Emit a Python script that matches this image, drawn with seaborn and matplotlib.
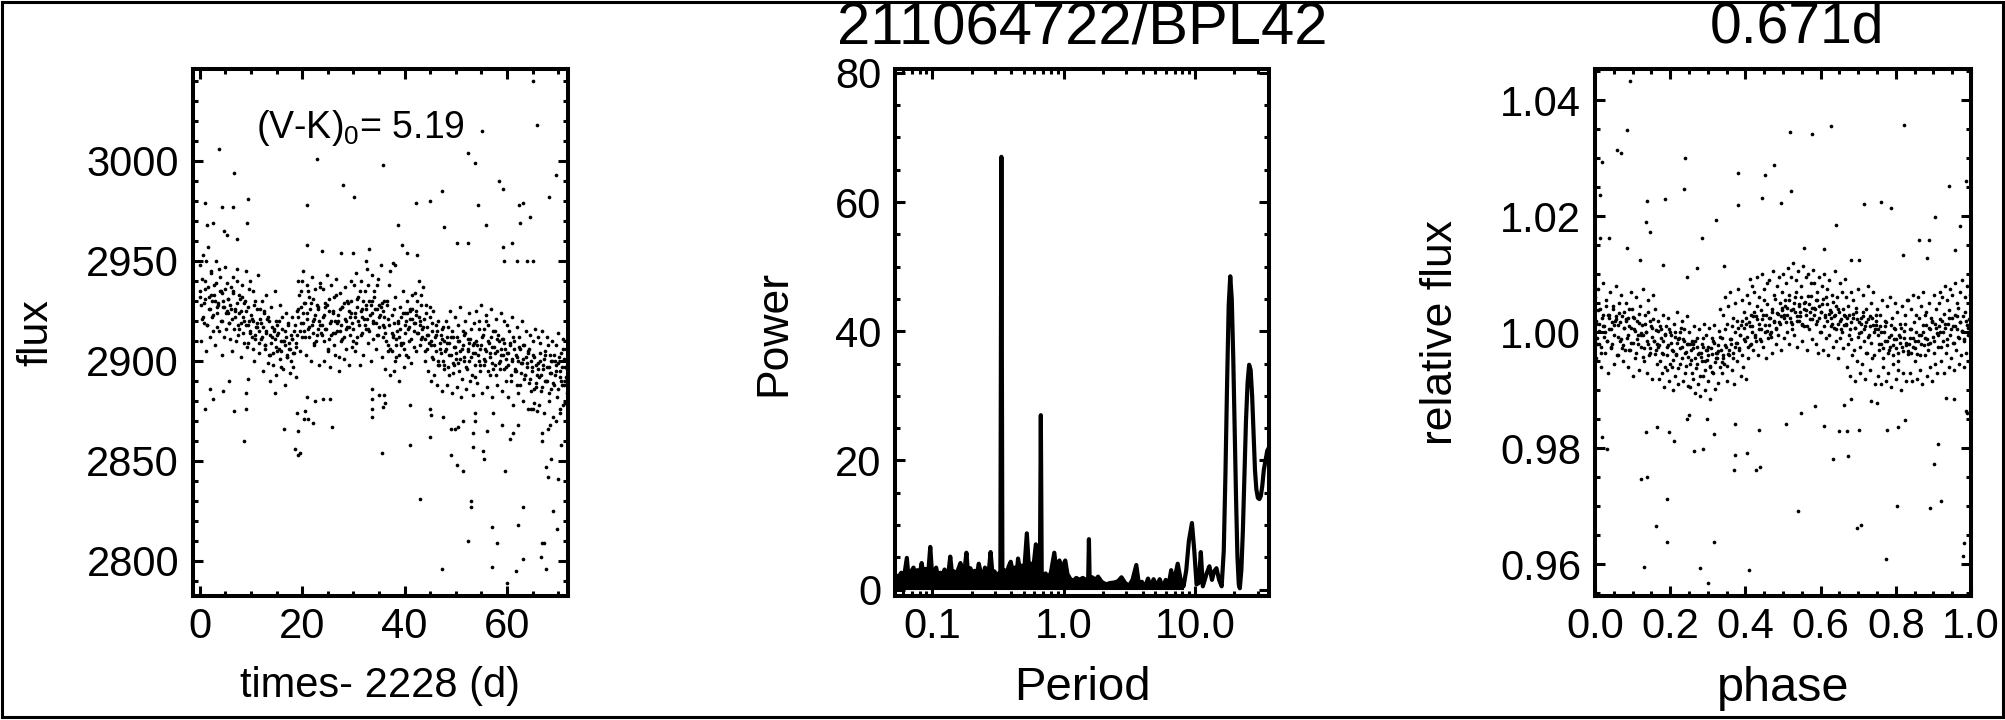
import matplotlib
matplotlib.use("Agg")
import matplotlib.pyplot as plt
from matplotlib.patches import Rectangle
from matplotlib.ticker import MultipleLocator, FixedLocator, FixedFormatter, LogLocator, NullFormatter, FormatStrFormatter
import numpy as np
import pandas as pd
import seaborn as sns

# --- light curve (flux read off the plot along the observing span) ---
# dense core, first pass
lc_flux = [
    2935, 2928, 2941, 2922, 2931, 2950, 2918, 2937, 2926, 2944, 2930, 2915, 2933, 2939, 2924, 2929, 2946, 2920, 2934, 2927, 2912, 2936, 2925, 2931, 2919,
    2928, 2921, 2935, 2916, 2926, 2940, 2913, 2924, 2931, 2919, 2922, 2909, 2930, 2925, 2918, 2936, 2914, 2923, 2920, 2928, 2911, 2917, 2926, 2915, 2921,
    2919, 2912, 2924, 2906, 2915, 2921, 2903, 2913, 2909, 2917, 2898, 2911, 2920, 2905, 2914, 2901, 2910, 2916, 2896, 2908, 2912, 2903, 2918, 2906, 2900,
    2911, 2904, 2915, 2907, 2913, 2926, 2933, 2919, 2940, 2924, 2915, 2929, 2921, 2935, 2912, 2926, 2918, 2931, 2909, 2923, 2928, 2916, 2920, 2937, 2914,
    2922, 2910, 2927, 2916, 2905, 2931, 2919, 2913, 2924, 2908, 2920, 2933, 2915, 2902, 2926, 2918, 2911, 2929, 2921, 2906, 2917, 2925, 2913, 2930, 2919,
    2916, 2924, 2909, 2927, 2920, 2935, 2913, 2922, 2930, 2918, 2926, 2921, 2938, 2915, 2928, 2924, 2911, 2932, 2919, 2926, 2941, 2917, 2923, 2929, 2912,
    2922, 2914, 2930, 2908, 2918, 2945, 2905, 2913, 2926, 2900, 2911, 2919, 2903, 2916, 2909, 2924, 2906, 2914, 2920, 2902, 2917, 2925, 2911, 2921, 2915,
    2919, 2925, 2914, 2922, 2918, 2928, 2916, 2921, 2911, 2924, 2917, 2913, 2927, 2908, 2919, 2901, 2912, 2905, 2915, 2898, 2909, 2904, 2916, 2900, 2910,
    2906, 2912, 2897, 2909, 2903, 2915, 2894, 2907, 2901, 2912, 2899, 2910, 2905, 2891, 2908, 2902, 2914, 2896, 2906, 2900, 2911, 2893, 2904, 2909, 2898,
    2910, 2903, 2916, 2898, 2908, 2913, 2901, 2906, 2920, 2895, 2909, 2904, 2912, 2899, 2907, 2915, 2893, 2905, 2910, 2900, 2903, 2911, 2896, 2906, 2901,
    2904, 2898, 2909, 2893, 2901, 2912, 2896, 2903, 2888, 2900, 2906, 2894, 2899, 2908, 2891, 2902, 2897, 2905, 2889, 2900, 2895, 2903, 2886, 2898, 2893,
    2899, 2892, 2904, 2887, 2896, 2901, 2890, 2897, 2908, 2884, 2894, 2900, 2889, 2903, 2893, 2898, 2886, 2902, 2895, 2890, 2906, 2888, 2897, 2892, 2900,
]
# dense core, second pass (wider part of the band)
lc_flux_b = [
    2948, 2910, 2953, 2919, 2940, 2905, 2957, 2932, 2912, 2945, 2922, 2938, 2908, 2950, 2927, 2915, 2942, 2935, 2903, 2930, 2947, 2916, 2939, 2924, 2911,
    2937, 2905, 2942, 2925, 2910, 2946, 2918, 2933, 2902, 2938, 2914, 2929, 2945, 2907, 2927, 2920, 2940, 2912, 2935, 2900, 2930, 2917, 2943, 2909, 2926,
    2930, 2895, 2925, 2908, 2933, 2899, 2920, 2890, 2927, 2904, 2915, 2935, 2893, 2918, 2906, 2928, 2897, 2922, 2910, 2888, 2924, 2902, 2919, 2894, 2913,
    2922, 2897, 2918, 2892, 2925, 2940, 2905, 2935, 2912, 2945, 2929, 2903, 2938, 2916, 2932, 2900, 2942, 2920, 2908, 2936, 2913, 2927, 2898, 2939, 2918,
    2936, 2900, 2929, 2943, 2906, 2925, 2897, 2938, 2914, 2932, 2903, 2941, 2920, 2895, 2934, 2910, 2927, 2901, 2937, 2916, 2930, 2898, 2922, 2940, 2907,
    2938, 2905, 2944, 2912, 2932, 2898, 2940, 2926, 2903, 2935, 2916, 2946, 2909, 2930, 2900, 2943, 2920, 2935, 2906, 2938, 2913, 2928, 2948, 2902, 2925,
    2930, 2896, 2928, 2905, 2938, 2893, 2923, 2912, 2895, 2932, 2902, 2920, 2890, 2927, 2908, 2935, 2897, 2924, 2903, 2930, 2910, 2926, 2899, 2933, 2907,
    2934, 2905, 2930, 2940, 2908, 2933, 2912, 2937, 2900, 2928, 2906, 2895, 2922, 2890, 2915, 2925, 2893, 2918, 2888, 2920, 2898, 2913, 2885, 2917, 2896,
    2920, 2888, 2917, 2893, 2925, 2884, 2912, 2898, 2922, 2887, 2918, 2895, 2927, 2882, 2915, 2900, 2920, 2886, 2911, 2924, 2890, 2916, 2883, 2919, 2892,
    2925, 2889, 2920, 2895, 2928, 2884, 2916, 2900, 2923, 2887, 2918, 2893, 2926, 2882, 2915, 2898, 2921, 2888, 2913, 2896, 2924, 2885, 2911, 2920, 2890,
    2918, 2882, 2915, 2890, 2922, 2878, 2910, 2895, 2917, 2884, 2912, 2888, 2920, 2880, 2908, 2893, 2915, 2876, 2906, 2913, 2885, 2910, 2879, 2916, 2887,
    2912, 2878, 2909, 2885, 2915, 2874, 2905, 2890, 2912, 2880, 2903, 2886, 2910, 2872, 2900, 2908, 2882, 2914, 2876, 2904, 2888, 2911, 2879, 2906, 2884,
]
# dense core, third pass (centre of the band)
lc_flux_c = [
    2932, 2921, 2929, 2936, 2918, 2926, 2933, 2923, 2930, 2917, 2928, 2935, 2920, 2927, 2924, 2931, 2919, 2926, 2934, 2922, 2929, 2916, 2925, 2932, 2920,
    2918, 2909, 2915, 2921, 2906, 2913, 2919, 2904, 2911, 2917, 2908, 2914, 2922, 2903, 2912, 2916, 2907, 2913, 2920, 2905, 2910, 2915, 2902, 2909, 2906,
    2911, 2904, 2909, 2922, 2915, 2927, 2919, 2912, 2924, 2917, 2929, 2914, 2921, 2910, 2926, 2918, 2913, 2923, 2916, 2928, 2911, 2920, 2925, 2914, 2919,
    2923, 2915, 2927, 2912, 2920, 2929, 2917, 2924, 2910, 2922, 2931, 2918, 2925, 2914, 2921, 2928, 2916, 2923, 2930, 2919, 2926, 2913, 2922, 2927, 2918,
    2917, 2910, 2921, 2906, 2914, 2919, 2908, 2915, 2912, 2922, 2909, 2918, 2924, 2916, 2921, 2926, 2919, 2923, 2914, 2920, 2911, 2917, 2905, 2913, 2909,
    2910, 2902, 2908, 2913, 2900, 2906, 2911, 2898, 2905, 2909, 2903, 2912, 2899, 2907, 2904, 2910, 2901, 2906, 2913, 2897, 2905, 2909, 2902, 2908, 2904,
    2908, 2900, 2906, 2912, 2898, 2905, 2910, 2902, 2907, 2896, 2904, 2911, 2899, 2906, 2903, 2909, 2897, 2904, 2908, 2900, 2906, 2895, 2902, 2907, 2899,
    2901, 2893, 2899, 2904, 2891, 2897, 2902, 2889, 2896, 2900, 2893, 2898, 2903, 2890, 2897, 2894, 2900, 2888, 2895, 2899, 2892, 2897, 2901, 2890, 2896,
]
lc_start, lc_end = 0.0, 71.8

lc_out_time = [
    65.1, 65.8, 55.1, 3.8, 22.9, 35.8, 52.4, 53.7, 69.6, 6.7, 28.0, 30.1, 58.4, 59.2, 68.2, 21.0, 1.1, 4.4, 6.5, 9.4,
    42.3, 45.0, 47.3, 54.3, 62.3, 63.1, 64.5, 62.5, 1.4, 2.6, 4.7, 5.3, 9.2, 7.3, 38.8, 55.8, 47.7, 21.0, 23.9, 27.6,
    30.0, 33.1, 39.5, 40.5, 42.4, 50.3, 52.4, 59.2, 61.0, 63.9, 65.1, 59.5, 61.9, 32.5, 37.8, 38.2,
    2.0, 2.6, 1.1, 5.8, 4.6, 6.7, 8.7, 9.1, 9.1, 9.4, 14.7, 16.5, 19.0, 20.6, 19.2, 18.6, 19.2, 19.6, 20.4, 21.2,
    22.2, 21.0, 22.5, 24.1, 25.4, 25.9, 33.7, 33.7, 33.7, 33.7, 35.0, 36.0, 36.2, 35.8, 35.6, 41.1, 41.1, 43.0, 45.0, 45.2,
    45.0, 47.5, 49.1, 49.9, 50.4, 49.1, 50.2, 51.4, 51.4, 52.4, 53.0, 53.0, 53.4, 53.4, 53.7, 53.7, 55.3, 55.5, 56.1, 57.3,
    59.0, 57.1, 58.0, 57.1, 59.6, 60.6, 61.2, 62.1, 62.1, 61.8, 63.1, 63.1, 64.7, 65.1, 65.9, 66.6, 66.9, 67.2, 66.9, 66.9,
    67.7, 67.7, 68.0, 68.6, 69.0, 69.8, 70.0, 70.6, 69.6, 70.3, 71.0, 68.0, 68.4, 47.3, 60.0,
]
lc_out_flux = [
    3040, 3018, 3015, 3006, 3001, 2998, 3004, 2999, 2993, 2994, 2988, 2982, 2990, 2986, 2982, 2978, 2979, 2977, 2977, 2981,
    2979, 2980, 2985, 2978, 2978, 2979, 2972, 2969, 2968, 2969, 2965, 2963, 2969, 2961, 2968, 2968, 2967, 2958, 2955, 2954,
    2954, 2956, 2958, 2954, 2953, 2959, 2959, 2957, 2959, 2950, 2950, 2950, 2950, 2950, 2949, 2948,
    2886, 2881, 2876, 2890, 2885, 2875, 2860, 2884, 2876, 2891, 2884, 2866, 2874, 2875, 2865, 2856, 2853, 2854, 2871, 2871,
    2869, 2882, 2880, 2881, 2881, 2867, 2886, 2881, 2876, 2872, 2883, 2883, 2879, 2877, 2854, 2878, 2858, 2831, 2876, 2873,
    2862, 2872, 2866, 2866, 2867, 2853, 2848, 2845, 2870, 2810, 2830, 2827, 2864, 2857, 2874, 2870, 2855, 2851, 2865, 2874,
    2868, 2817, 2809, 2797, 2845, 2861, 2864, 2868, 2818, 2795, 2827, 2801, 2876, 2876, 2875, 2802, 2809, 2809, 2860, 2864,
    2796, 2847, 2842, 2851, 2825, 2816, 2841, 2858, 2870, 2874, 2878, 2866, 2868, 2796, 2789,
]

# --- periodogram ---
pg_period = [
    0.052, 0.055, 0.058, 0.061, 0.064, 0.066, 0.069, 0.072, 0.074, 0.077, 0.080, 0.083, 0.086, 0.089, 0.093, 0.0965,
    0.100, 0.104, 0.107, 0.111, 0.115, 0.119, 0.124, 0.129, 0.133, 0.137, 0.142, 0.147, 0.152, 0.158, 0.164, 0.170,
    0.176, 0.182, 0.188, 0.195, 0.202, 0.210, 0.218, 0.226, 0.234, 0.243, 0.252, 0.261, 0.270, 0.278, 0.288, 0.298,
    0.309, 0.320, 0.330, 0.336, 0.342, 0.355, 0.368, 0.382, 0.396, 0.410, 0.425, 0.440, 0.450, 0.465, 0.480, 0.500,
    0.525, 0.545, 0.565, 0.585, 0.615, 0.640, 0.660, 0.671, 0.682, 0.705, 0.73, 0.76, 0.80, 0.85, 0.88, 0.91,
    0.93, 0.96, 1.00, 1.03, 1.07, 1.12, 1.18, 1.25, 1.32, 1.40, 1.48, 1.54, 1.56, 1.58, 1.65, 1.75,
    1.83, 1.95, 2.1, 2.25, 2.45, 2.6, 2.76, 2.95, 3.15, 3.35, 3.58, 3.75, 3.95, 4.15, 4.4, 4.6,
    4.85, 5.1, 5.4, 5.7, 6.0, 6.3, 6.6, 6.9, 7.4, 7.8, 8.2, 8.6, 9.0, 9.5, 9.9, 10.3,
    10.7, 11.1, 11.5, 12.3, 12.9, 13.5, 14.0, 14.6, 15.3, 16.0, 16.6, 17.1, 17.6, 18.1, 18.6, 19.1,
    19.6, 20.1, 20.6, 21.1, 21.6, 22.0, 22.6, 23.2, 23.8, 24.5, 25.2, 25.9, 26.6, 27.3, 28.0, 28.7,
    29.4, 30.2, 31.0, 31.8, 32.6, 33.5, 34.5, 35.6, 36.7,
]
pg_power = [
    2.4, 1.8, 2.6, 2.0, 4.9, 1.7, 2.8, 3.4, 1.9, 3.0, 2.2, 4.1, 2.0, 3.2, 2.3, 6.6,
    1.9, 2.8, 3.4, 1.8, 2.6, 2.1, 3.1, 2.2, 2.7, 5.1, 2.1, 2.8, 2.0, 3.2, 4.1, 2.4,
    3.0, 5.7, 2.0, 3.3, 2.3, 2.9, 2.1, 4.0, 2.6, 1.9, 3.4, 2.4, 3.0, 5.8, 2.2, 2.8,
    2.0, 2.5, 1.8, 67.0, 1.6, 3.0, 2.3, 3.6, 4.3, 2.7, 3.4, 2.4, 4.8, 3.0, 3.7, 2.5,
    8.7, 3.2, 4.0, 2.9, 7.0, 2.6, 1.9, 27.0, 1.5, 2.1, 2.5, 1.8, 2.6, 5.7, 3.0, 3.4,
    4.5, 2.3, 3.9, 4.5, 2.4, 1.7, 1.3, 1.8, 1.5, 1.8, 1.5, 1.6, 7.8, 1.4, 1.9, 1.5,
    2.0, 1.2, 0.8, 1.0, 1.1, 1.3, 1.9, 1.0, 0.6, 1.5, 3.8, 0.8, 1.2, 0.3, 1.7, 0.4,
    1.6, 0.5, 1.6, 0.3, 1.5, 0.6, 3.0, 1.0, 4.0, 1.5, 0.5, 3.0, 7.5, 10.3, 6.0, 0.8,
    1.0, 5.8, 0.5, 2.5, 3.6, 1.5, 2.8, 3.3, 1.5, 0.5, 6.0, 18.0, 32.0, 44.0, 48.5, 45.0,
    36.0, 25.0, 14.0, 5.0, 0.8, 0.2, 3.0, 9.0, 17.0, 26.0, 32.0, 34.8, 34.0, 30.0, 24.0, 18.5,
    15.5, 14.2, 14.0, 14.5, 16.0, 18.5, 20.0, 21.5, 22.0,
]
pg_fill_max = 8.2

# --- phase-folded light curve at 0.671 d (relative flux - 1, in units of 1e-4) ---
ph_dev = [
    15, -20, 38, 2, -35, 25, 10, -8, 45, -15, 30, 5, -28, 18, 40, -5, 22, -40, 12, 33, -12, 28, -22, 8, 20,
    -10, 25, -30, 8, 40, -18, 5, -35, 20, -5, 32, -25, 12, -42, 15, 0, -15, 35, -28, 10, -8, 22, -38, 3, -20,
    -25, -50, 5, -35, -15, -60, 10, -40, -22, -55, -5, -30, -48, 0, -38, -18, -62, -28, 8, -45, -12, -35, -58, -20, -42,
    -55, -30, -70, -20, -45, -62, -10, -38, -75, -35, -50, -25, -65, -5, -48, -40, -58, -28, -68, -15, -52, -35, -45, -22, -60,
    -30, -10, -45, 5, -25, 15, -38, -12, -20, 10, -35, 0, -18, 20, -28, -5, 12, -40, 8, -15, 25, -8, 18, -22, 30,
    10, 35, -5, 28, 45, 15, -12, 38, 22, 55, 0, 30, 48, 12, 25, -8, 40, 20, 58, 5, 33, 18, 50, 28, 42,
    30, 55, 18, 42, 65, 25, 38, 5, 50, 35, 70, 20, 45, 28, 60, 12, 40, 52, 30, 10, 48, 35, 62, 22, 42,
    40, 15, 55, 25, 0, 35, 48, 10, 30, 60, 20, -5, 38, 25, 52, 8, 30, 45, 15, 35, -10, 22, 40, 12, 28,
    15, -20, 30, 5, -12, 25, -30, 8, 42, -8, 18, -25, 0, 35, -15, 10, -35, 22, -5, 28, -18, 12, -40, 5, 20,
    -5, -30, 10, -20, -45, 0, -15, 18, -35, -8, -25, 12, -40, -12, 5, -28, -50, -5, -18, 8, -32, -10, 15, -22, -38,
    -20, 5, -35, -10, 18, -28, 0, -15, 25, -40, -5, 12, -22, 30, -12, -30, 8, -18, 20, -8, -35, 15, -2, -25, 10,
    0, 20, -15, 32, 8, -22, 15, 38, -5, 25, 10, -18, 30, 5, 42, -10, 18, 2, 28, -12, 35, 12, -5, 22, 15,
]
ph_dev_b = [
    60, -45, 75, -20, 40, -60, 85, 10, -35, 55, -70, 30, 70, -25, 45, -55, 20, 80, -40, 50, -15, 65, -50, 35, -30,
    50, -60, 40, -30, 70, -75, 25, -45, 60, -20, -65, 45, -5, 75, -50, 30, -70, 55, -40, 20, -80, 65, -15, 40, -55,
    20, -80, 10, -70, 30, -95, -5, -65, 25, -85, 0, -60, -100, 15, -75, 35, -90, -10, -55, 20, -85, 5, -70, 28, -92,
    0, -95, -15, -80, 10, -105, -25, -90, 5, -110, -20, -75, 15, -100, -30, -85, 8, -115, -10, -70, 12, -98, -35, -88, 2,
    40, -70, 30, -55, 60, -85, 45, -40, 70, -65, 25, -90, 50, -50, 75, -30, -75, 55, -60, 35, -80, 65, -45, 50, -20,
    80, -30, 70, -15, 95, -40, 60, 5, 100, -25, 75, -45, 85, -10, 90, 0, -35, 105, 65, -20, 80, -5, 95, -30, 70,
    100, -10, 85, 0, 110, -20, 95, 15, 120, -5, 90, -25, 105, 20, 80, -15, 115, 10, 95, -30, 100, 5, 85, -12, 108,
    85, -20, 70, -35, 95, 0, 80, -30, 100, -10, 75, -40, 90, 10, 65, -25, 105, -15, 60, -45, 85, 5, 70, -28, 92,
    60, -60, 45, -75, 70, -40, 55, -85, 35, -50, 75, -70, 25, -55, 65, -80, 40, -35, 80, -65, 50, -45, 70, -90, 30,
    40, -75, 30, -90, 55, -60, 20, -85, 45, -70, 60, -95, 25, -55, 50, -80, 35, -65, 15, -100, 45, -70, 30, -85, 55,
    55, -70, 40, -85, 65, -50, 30, -80, 60, -65, 45, -90, 70, -40, 35, -75, 50, -60, 25, -85, 65, -55, 40, -70, 50,
    70, -50, 60, -70, 80, -35, 55, -60, 75, -45, 65, -65, 85, -30, 50, -55, 70, -40, 90, -60, 60, -35, 80, -50, 65,
]
ph_dev_c = [
    20, -10, 15, -25, 30, 0, -15, 25, 5, -20, 12, 28, -8, 18, -28, 8, 22, -5, 10, -18, 26, 2, -12, 16, -2,
    -5, -28, 0, -20, -35, 8, -15, -30, 2, -22, -10, -38, -3, -25, 5, -18, -32, -8, -40, -12, 0, -26, -15, -34, -20,
    -20, -48, -28, -15, -55, -35, -42, -10, -50, -30, -25, -60, -38, -18, -45, -32, -8, -52, -40, -22, -58, -30, -12, -44, -26,
    -18, 8, -5, 20, -12, 15, -25, 10, 0, 28, -8, 22, 5, -15, 30, 12, 2, 25, -3, 35, 18, 8, 32, 15, 38,
    25, 45, 30, 55, 18, 40, 60, 28, 48, 35, 15, 50, 38, 62, 22, 42, 30, 55, 20, 45, 35, 58, 26, 48, 32,
    35, 15, 28, 5, 40, 20, 0, 30, 12, 25, -5, 18, 32, 8, 22, -2, 15, 28, 5, 18, -8, 10, 24, 0, 12,
    5, -20, 0, -28, 10, -15, -30, -5, -22, 8, -12, -35, -8, -25, 2, -18, -32, -10, 5, -25, -15, -38, -5, -20, 0,
    -10, 12, -20, 5, 18, -15, 8, -5, 22, -25, 0, 15, -12, 25, 5, -18, 10, 28, -8, 18, 2, -15, 20, 8, 12,
]
ph_out_phase = [
    0.092, 0.086, 0.058, 0.069, 0.018, 0.24, 0.013, 0.138, 0.236, 0.185, 0.38, 0.38, 0.452, 0.476, 0.444, 0.518, 0.578,
    0.628, 0.522, 0.496, 0.822, 0.942, 0.987, 0.716, 0.76, 0.787, 0.64, 0.904, 0.972, 0.147, 0.135, 0.322, 0.284, 0.013,
    0.036, 0.862, 0.889, 0.818, 0.086, 0.12, 0.182, 0.344, 0.413, 0.244, 0.271, 0.883, 0.957, 0.68, 0.702, 0.609, 0.556,
    0.018, 0.033, 0.136, 0.166, 0.196, 0.211, 0.244, 0.249, 0.264, 0.287, 0.316, 0.372, 0.403, 0.371, 0.427, 0.44, 0.373,
    0.436, 0.509, 0.547, 0.584, 0.634, 0.649, 0.671, 0.673, 0.702, 0.776, 0.806, 0.824, 0.902, 0.913, 0.933, 0.954, 0.987,
    0.989, 0.122, 0.138, 0.191, 0.161, 0.191, 0.316, 0.131, 0.278, 0.3, 0.409, 0.54, 0.696, 0.707, 0.775, 0.804, 0.892,
    0.92, 0.982, 0.98, 0.662, 0.68, 0.733, 0.751, 0.609, 0.298,
]
ph_out_dev = [
    434, 348, 314, 309, 294, 301, 236, 226, 247, 229, 275, 219, 272, 288, 232, 346, 342,
    355, 244, 223, 358, 253, 260, 221, 225, 214, 185, 199, 184, 172, 190, 193, 162, 163,
    163, 159, 159, 134, 146, 125, 116, 114, 91, 96, 110, 128, 141, 125, 125, 144, 146,
    -181, -202, -172, -163, -172, -187, -149, -143, -205, -202, -175, -211, -208, -238, -237, -233, -159,
    -168, -158, -140, -128, -219, -171, -171, -213, -168, -168, -163, -152, -227, -193, -113, -116, -136,
    -140, -254, -250, -288, -334, -361, -361, -405, -407, -433, -410, -309, -338, -333, -391, -299, -303,
    -291, -363, -386, -125, -116, -119, -122, -162, -149,
]

# --- tables ---
lc_df = pd.DataFrame({
    "time": np.concatenate([np.linspace(lc_start, lc_end, len(lc_flux)),
                            np.linspace(lc_start + 0.1, lc_end - 0.1, len(lc_flux_b)),
                            np.linspace(lc_start + 0.05, lc_end - 0.05, len(lc_flux_c)), lc_out_time]),
    "flux": np.concatenate([lc_flux, lc_flux_b, lc_flux_c, lc_out_flux]),
})
pg_df = pd.DataFrame({"period": pg_period, "power": pg_power})
ph_df = pd.DataFrame({
    "phase": np.concatenate([(np.arange(len(ph_dev)) + 0.5) / len(ph_dev),
                             (np.arange(len(ph_dev_b)) + 0.1) / len(ph_dev_b),
                             (np.arange(len(ph_dev_c)) + 0.3) / len(ph_dev_c), ph_out_phase]),
    "rel": 1.0 + 1e-4 * np.concatenate([ph_dev, ph_dev_b, ph_dev_c, ph_out_dev]),
})

sns.set_style("ticks")
plt.rcParams["font.family"] = ["Liberation Sans", "DejaVu Sans"]
plt.rcParams["mathtext.fontset"] = "custom"
plt.rcParams["mathtext.rm"] = "Liberation Sans"
plt.rcParams["mathtext.it"] = "Liberation Sans"
for key in ("text.color", "axes.labelcolor", "xtick.color", "ytick.color", "axes.edgecolor"):
    plt.rcParams[key] = "black"

TICK_FS = 30

fig = plt.figure(figsize=(20.05, 7.2), dpi=100)
W, H = 2005.0, 720.0
bottom, height = (720 - 596) / H, 527 / H
ax1 = fig.add_axes([193 / W, bottom, 375 / W, height])
ax2 = fig.add_axes([895 / W, bottom, 374 / W, height])
ax3 = fig.add_axes([1595 / W, bottom, 376 / W, height])


def style_axes(ax):
    for sp in ax.spines.values():
        sp.set_linewidth(2.9)
        sp.set_color("black")
    ax.tick_params(which="both", direction="in", top=True, right=True, width=2.2, colors="black")
    ax.tick_params(which="major", length=7.5, labelsize=TICK_FS)
    ax.tick_params(which="minor", length=3.8)
    ax.tick_params(axis="x", which="major", pad=8)
    ax.tick_params(axis="y", which="major", pad=10)


# light curve
sns.scatterplot(data=lc_df, x="time", y="flux", ax=ax1, color="black", s=7, linewidth=0, legend=False)
ax1.set_xlim(-1.3, 71.9)
ax1.set_ylim(2782.5, 3046)
ax1.xaxis.set_major_locator(FixedLocator([0, 20, 40, 60]))
ax1.xaxis.set_minor_locator(MultipleLocator(5))
ax1.yaxis.set_major_locator(MultipleLocator(50))
ax1.yaxis.set_minor_locator(MultipleLocator(10))
style_axes(ax1)
ax1.set_xlabel("times- 2228 (d)", fontsize=30, va="center")
ax1.set_ylabel("flux", fontsize=31, va="center")
ax1.xaxis.set_label_coords(0.5, -0.17)
ax1.yaxis.set_label_coords(-0.418, 0.5)
ax1.text(0.168, 0.888, "(V-K)$_0$= 5.19", transform=ax1.transAxes, fontsize=27, ha="left", va="center")

# periodogram
lowp = pg_df[pg_df["period"] <= pg_fill_max]
ax2.fill_between(lowp["period"], 0, lowp["power"], color="black", lw=0)
sns.lineplot(data=pg_df, x="period", y="power", ax=ax2, color="black", lw=3.0, estimator=None)
ax2.set_xscale("log")
ax2.set_xlim(0.052, 36.7)
ax2.set_ylim(-1.0, 80.6)
ax2.xaxis.set_major_locator(FixedLocator([0.1, 1.0, 10.0]))
ax2.xaxis.set_major_formatter(FixedFormatter(["0.1", "1.0", "10.0"]))
ax2.xaxis.set_minor_locator(LogLocator(base=10, subs=np.arange(2, 10)))
ax2.xaxis.set_minor_formatter(NullFormatter())
ax2.yaxis.set_major_locator(MultipleLocator(20))
ax2.yaxis.set_minor_locator(MultipleLocator(5))
style_axes(ax2)
ax2.set_xlabel("Period", fontsize=34, va="center")
ax2.set_ylabel("Power", fontsize=32, va="center")
ax2.xaxis.set_label_coords(0.5, -0.175)
ax2.yaxis.set_label_coords(-0.324, 0.5)
ax2.text(0.5, 1.078, "211064722/BPL42", transform=ax2.transAxes, fontsize=43, ha="center", va="center")

# phase-folded
sns.scatterplot(data=ph_df, x="phase", y="rel", ax=ax3, color="black", s=7, linewidth=0, legend=False)
ax3.set_xlim(0.0, 1.0)
ax3.set_ylim(0.9545, 1.0454)
ax3.xaxis.set_major_locator(MultipleLocator(0.2))
ax3.xaxis.set_minor_locator(MultipleLocator(0.05))
ax3.xaxis.set_major_formatter(FormatStrFormatter("%.1f"))
ax3.yaxis.set_major_locator(MultipleLocator(0.02))
ax3.yaxis.set_minor_locator(MultipleLocator(0.005))
ax3.yaxis.set_major_formatter(FormatStrFormatter("%.2f"))
style_axes(ax3)
ax3.set_xlabel("phase", fontsize=35, va="center")
ax3.set_ylabel("relative flux", fontsize=32, va="center")
ax3.xaxis.set_label_coords(0.5, -0.175)
ax3.yaxis.set_label_coords(-0.412, 0.5)
ax3.text(0.537, 1.078, "0.671d", transform=ax3.transAxes, fontsize=41, ha="center", va="center")

# frame round the whole picture
fig.patches.append(Rectangle((1.5 / W, 3 / H), 2001 / W, 715.5 / H, transform=fig.transFigure,
                             fill=False, edgecolor="black", linewidth=2.2))

fig.savefig("out.png", dpi=100)
plt.close(fig)
